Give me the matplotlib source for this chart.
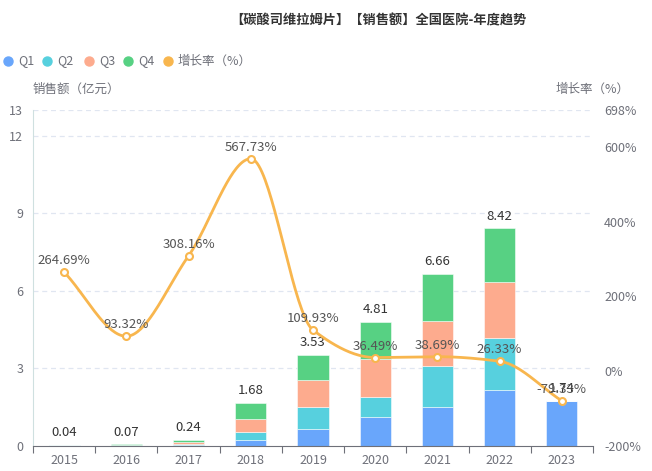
import numpy as np
import matplotlib
matplotlib.use("Agg")
import matplotlib.pyplot as plt
from matplotlib.lines import Line2D

plt.rcParams['font.family'] = ['Noto Sans CJK SC', 'DejaVu Sans']

years = ['2015', '2016', '2017', '2018', '2019', '2020', '2021', '2022', '2023']
q1 = [0.01, 0.01, 0.05, 0.22, 0.65, 1.14, 1.50, 2.16, 1.74]
q2 = [0.01, 0.02, 0.04, 0.33, 0.85, 0.74, 1.58, 2.03, 0.0]
q3 = [0.01, 0.02, 0.06, 0.49, 1.04, 1.50, 1.77, 2.15, 0.0]
q4 = [0.01, 0.02, 0.09, 0.64, 0.99, 1.43, 1.81, 2.08, 0.0]
totals = [0.04, 0.07, 0.24, 1.68, 3.53, 4.81, 6.66, 8.42, 1.74]
growth = [264.69, 93.32, 308.16, 567.73, 109.93, 36.49, 38.69, 26.33, -79.33]

left_ticks = [0, 3, 6, 9, 12, 13]
right_ticks = [-200, 0, 200, 400, 600, 698]

C_Q1 = '#69a6fb'
C_Q2 = '#57d0de'
C_Q3 = '#fdab8e'
C_Q4 = '#57d183'
C_LINE = '#f8b64e'
TXT = '#6e7079'

W, H = 652, 471
fig = plt.figure(figsize=(W / 100, H / 100), dpi=100)

def fx(px):
    return px / W

def fy(py):
    return 1 - py / H

ax = fig.add_axes([fx(33), fy(446), fx(593) - fx(33), fy(110) - fy(446)])
x = np.arange(len(years))
bw = 0.5
bottom = np.zeros(len(years))
for vals, col in [(q1, C_Q1), (q2, C_Q2), (q3, C_Q3), (q4, C_Q4)]:
    v = np.array(vals)
    ax.bar(x, v, bw, bottom=bottom, color=col, edgecolor=(1, 1, 1, 0.6),
           linewidth=0.6, zorder=2)
    bottom += v

for xi, t in zip(x, totals):
    ax.annotate(f'{t:.2f}', (xi, t), xytext=(0, 4), textcoords='offset points',
                ha='center', va='bottom', fontsize=9.5, color='#333333', zorder=5)

ax.set_xlim(-0.5, len(years) - 0.5)
ax.set_ylim(0, 13)
ax.set_yticks(left_ticks)
ax.set_yticklabels([str(t) for t in left_ticks])
ax.set_xticks(x)
ax.set_xticklabels(years)
ax.set_xticks(np.arange(-0.5, len(years)), minor=True)
ax.tick_params(axis='x', which='major', length=0, pad=6, labelsize=9, labelcolor=TXT)
ax.tick_params(axis='x', which='minor', length=5, color='#6e7079', width=0.8)
ax.tick_params(axis='y', length=0, pad=7, labelsize=9, labelcolor=TXT)
for yv in left_ticks[1:]:
    ax.axhline(yv, color='#e0e6f1', lw=0.9, ls=(0, (4, 3)), zorder=0)
for s in ['top', 'right']:
    ax.spines[s].set_visible(False)
ax.spines['left'].set_color('#cfe0e0')
ax.spines['bottom'].set_color('#6e7079')
ax.spines['bottom'].set_linewidth(0.8)

ax2 = ax.twinx()
ax2.set_ylim(-200, 698)
ax2.set_yticks(right_ticks)
ax2.set_yticklabels([f'{t}%' for t in right_ticks])
ax2.tick_params(axis='y', length=0, pad=8, labelsize=9, labelcolor=TXT)
for s in ['top', 'right', 'left', 'bottom']:
    ax2.spines[s].set_visible(False)

# monotone cubic (PCHIP-like) smoothing of the growth line
xs = x.astype(float)
ys = np.array(growth, dtype=float)
h = np.diff(xs)
d = np.diff(ys) / h
n = len(xs)
m = np.zeros(n)
for i in range(1, n - 1):
    if d[i - 1] * d[i] > 0:
        w1 = 2 * h[i] + h[i - 1]
        w2 = h[i] + 2 * h[i - 1]
        m[i] = (w1 + w2) / (w1 / d[i - 1] + w2 / d[i])
    else:
        m[i] = 0.0
m[0] = d[0]
m[-1] = d[-1]
cx, cy = [], []
tt = np.linspace(0, 1, 40)
for i in range(n - 1):
    t = tt
    h00 = 2 * t ** 3 - 3 * t ** 2 + 1
    h10 = t ** 3 - 2 * t ** 2 + t
    h01 = -2 * t ** 3 + 3 * t ** 2
    h11 = t ** 3 - t ** 2
    cx.append(xs[i] + t * h[i])
    cy.append(h00 * ys[i] + h10 * h[i] * m[i] + h01 * ys[i + 1] + h11 * h[i] * m[i + 1])
cx = np.concatenate(cx)
cy = np.concatenate(cy)
ax2.plot(cx, cy, color=C_LINE, lw=2, zorder=3, solid_capstyle='round')
ax2.plot(x, growth, ls='none', marker='o', ms=5, mfc='white', mec=C_LINE, mew=1.5, zorder=4)
for xi, g in zip(x, growth):
    ax2.annotate(f'{g:.2f}%', (xi, g), xytext=(0, 3.5), textcoords='offset points',
                 ha='center', va='bottom', fontsize=9.5, color='#555555', zorder=6)

# title
fig.text(fx(378), fy(20), '【碳酸司维拉姆片】【销售额】全国医院-年度趋势', ha='center', va='center',
         fontsize=9.5, fontweight='bold', color='#333333')

# legend
leg_items = [('Q1', C_Q1, 8), ('Q2', C_Q2, 47), ('Q3', C_Q3, 89), ('Q4', C_Q4, 128), ('增长率（%）', C_LINE, 168)]
for lab, col, px in leg_items:
    fig.add_artist(Line2D([fx(px)], [fy(61)], marker='o', ms=6.5, color=col, ls='none',
                          transform=fig.transFigure))
    fig.text(fx(px + 10), fy(61), lab, ha='left', va='center', fontsize=9, color=TXT)

fig.text(fx(33), fy(89), '销售额（亿元）', ha='left', va='center', fontsize=9, color=TXT)
fig.text(fx(630), fy(89), '增长率（%）', ha='right', va='center', fontsize=9, color=TXT)

fig.savefig('out.png', dpi=100)
